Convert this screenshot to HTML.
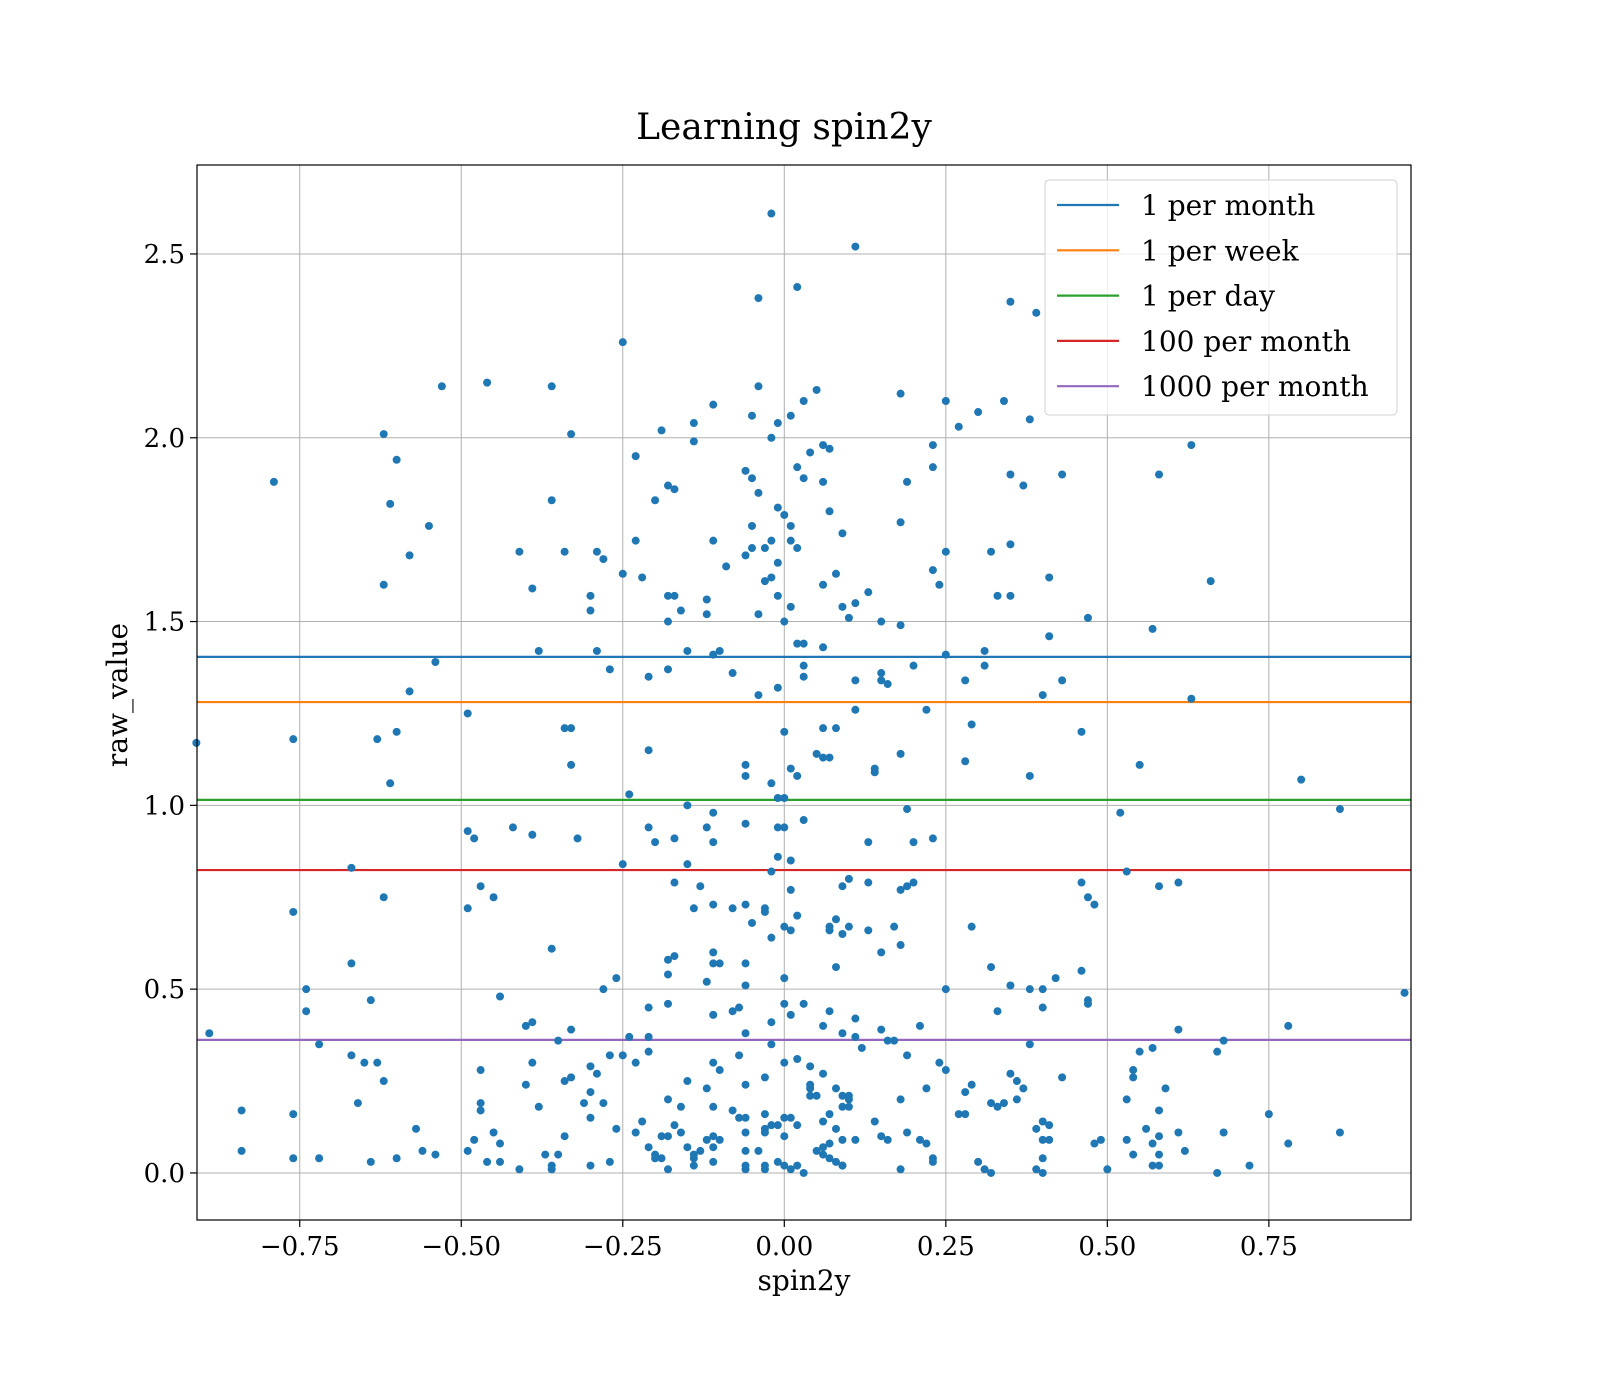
<!DOCTYPE html>
<html><head><meta charset="utf-8"><style>
html,body{margin:0;padding:0;background:#fff;}
svg{display:block;font-family:"DejaVu Serif","Liberation Serif",serif;}
</style></head><body>
<svg id="chart" width="1600" height="1400" viewBox="0 0 1600 1400">
<rect width="1600" height="1400" fill="#fff"/>
<text x="784" y="139" font-size="36" text-anchor="middle" fill="#000">Learning spin2y</text>
<g id="grid"></g>
<g id="hlines"></g>
<g id="points"></g>
<rect x="197" y="165" width="1214" height="1055" fill="none" stroke="#000" stroke-width="1.2"/>
<g id="xticks"></g>
<g id="yticks"></g>
<text x="804" y="1290" font-size="28" text-anchor="middle">spin2y</text>
<text x="127" y="695" font-size="28" text-anchor="middle" transform="rotate(-90 127 695)">raw_value</text>
<g id="legend"></g>
</svg>
<script>
const xTicks=[-0.75,-0.5,-0.25,0,0.25,0.5,0.75];
const xTickLabels=["−0.75","−0.50","−0.25","0.00","0.25","0.50","0.75"];
const yTicks=[0,0.5,1,1.5,2,2.5];
const yTickLabels=["0.0","0.5","1.0","1.5","2.0","2.5"];
const seriesNames=["1 per month","1 per week","1 per day","100 per month","1000 per month"];
const seriesValues=[1.404,1.281,1.015,0.824,0.362];
const seriesColors=["#1f77b4","#ff7f0e","#2ca02c","#d62728","#9467bd"];
const ptX=[-0.02,0.11,0.02,-0.04,0.35,0.39,-0.25,-0.46,-0.53,-0.36,-0.04,0.05,0.18,0.03,0.25,0.34,-0.11,0.01,-0.05,0.30,0.38,-0.14,0.27,-0.19,-0.62,-0.33,-0.01,0.23,0.63,-0.14,0.06,0.07,-0.02,0.04,-0.23,-0.60,0.23,0.02,-0.06,0.03,0.35,0.43,0.58,-0.05,-0.79,0.19,0.06,-0.18,-0.17,0.37,-0.04,-0.36,-0.20,-0.61,-0.01,0.07,0.00,0.18,-0.55,-0.05,0.01,0.09,-0.11,-0.23,-0.02,0.01,-0.05,-0.03,0.02,0.25,0.32,0.35,-0.29,-0.41,-0.34,-0.58,-0.06,-0.28,-0.09,-0.01,0.23,0.08,-0.02,-0.03,0.24,0.06,0.66,-0.25,-0.22,0.41,-0.62,-0.39,-0.18,-0.17,-0.30,-0.12,0.33,0.35,0.13,-0.01,0.11,0.09,-0.3,-0.16,-0.12,-0.04,0.01,0.10,0.47,-0.18,0.15,0.18,0.00,0.57,0.41,0.02,0.03,0.06,-0.38,-0.29,-0.15,-0.10,-0.11,0.25,0.31,
-0.54,0.20,0.03,0.31,-0.27,-0.18,-0.08,0.15,0.03,-0.21,0.11,0.15,0.16,0.28,0.43,-0.58,-0.04,-0.01,0.40,0.63,0.22,0.11,-0.49,0.29,-0.34,-0.33,0.06,0.08,-0.60,0.00,0.46,-0.63,-0.76,-0.91,-0.21,0.05,0.06,0.07,0.18,0.28,0.55,-0.06,-0.33,0.01,0.14,0.14,-0.06,0.02,0.38,0.80,-0.61,-0.02,-0.24,-0.01,0.00,-0.15,0.86,0.19,0.52,-0.11,0.03,-0.06,-0.42,-0.12,-0.21,-0.01,0.00,-0.49,-0.48,-0.39,0.23,-0.17,-0.32,-0.11,-0.20,0.13,0.20,-0.15,-0.25,-0.01,0.01,-0.67,-0.02,0.53,0.10,0.20,0.13,0.19,0.46,0.61,0.58,-0.17,-0.47,-0.13,0.09,0.01,0.18,-0.62,-0.45,0.47,0.48,-0.11,-0.06,-0.03,-0.14,-0.76,-0.49,-0.08,-0.03,0.02,0.08,0.07,0.07,0.09,0.10,0.13,0.17,0.00,0.01,-0.05,0.29,-0.02,0.18,-0.36,0.15,-0.11,-0.17,-0.18,-0.11,-0.10,-0.06,-0.67,0.32,0.08,0.46,-0.18,0.00,-0.26,0.42,-0.12,-0.06,0.35,-0.28,0.25,0.38,0.40,-0.74,0.96,-0.44,-0.64,0.47,0.47,0.00,-0.18,0.03,-0.21,0.40,-0.74,-0.08,-0.07,0.07,0.33,-0.11,0.01,0.11,-0.39,-0.40,0.21,0.78,0.06,0.09,0.15,0.61,-0.33,-0.02,-0.06,-0.89,-0.24,-0.21,0.11,0.16,0.17,0.68,-0.35,-0.72,0.38,0.57,-0.02,0.12,0.55,-0.21,0.67,-0.67,-0.07,0.19,-0.25,-0.27,-0.11,0.02,0.24,-0.65,-0.63,-0.39,-0.23,0.04,-0.30,0.00,0.25,-0.47,-0.10,0.06,0.54,-0.29,0.43,0.35,0.54,-0.33,-0.03,0.36,-0.15,-0.62,0.04,-0.34,-0.40,0.59,0.08,-0.12,0.22,0.29,0.37,0.04,-0.06,0.04,0.05,0.09,0.10,-0.30,0.28,0.36,-0.18,0.53,-0.47,-0.66,-0.31,0.32,0.33,-0.28,0.10,0.34,0.18,-0.16,-0.11,0.10,-0.38,-0.08,0.09,0.58,-0.47,-0.84,0.07,-0.03,0.27,0.28,-0.76,0.75,-0.30,-0.07,-0.06,0.00,0.01,0.14,0.06,0.40,0.41,-0.22,0.02,-0.02,-0.03,-0.01,-0.17,0.08,-0.57,0.39,0.56,-0.26,-0.03,-0.23,-0.06,-0.45,0.61,0.68,0.86,0.19,-0.16,-0.18,-0.19,-0.11,-0.10,-0.12,-0.34,0.00,0.15,0.16,0.21,0.40,0.41,0.49,0.48,0.58,0.53,-0.44,-0.48,0.11,0.07,0.09,0.22,0.78,0.57,-0.21,-0.15,-0.11,-0.06,-0.04,0.06,0.62,-0.49,-0.84,-0.56,-0.13,-0.20,-0.35,-0.37,0.06,0.05,0.54,0.58,-0.60,-0.72,-0.76,-0.54,-0.14,-0.14,0.23,0.40,0.07,-0.19,-0.20,-0.11,0.30,-0.27,-0.46,-0.64,-0.44,-0.01,0.08,0.23,-0.06,-0.03,0.00,0.02,-0.30,-0.36,-0.14,-0.41,-0.36,0.57,0.58,0.72,0.31,0.01,-0.18,-0.03,-0.06,0.09,0.18,0.39,0.40,0.50,0.67,0.03,0.32,0.09];
const ptY=[2.61,2.52,2.41,2.38,2.37,2.34,2.26,2.15,2.14,2.14,2.14,2.13,2.12,2.10,2.10,2.10,2.09,2.06,2.06,2.07,2.05,2.04,2.03,2.02,2.01,2.01,2.04,1.98,1.98,1.99,1.98,1.97,2.0,1.96,1.95,1.94,1.92,1.92,1.91,1.89,1.90,1.90,1.90,1.89,1.88,1.88,1.88,1.87,1.86,1.87,1.85,1.83,1.83,1.82,1.81,1.80,1.79,1.77,1.76,1.76,1.76,1.74,1.72,1.72,1.72,1.72,1.70,1.70,1.70,1.69,1.69,1.71,1.69,1.69,1.69,1.68,1.68,1.67,1.65,1.66,1.64,1.63,1.62,1.61,1.60,1.60,1.61,1.63,1.62,1.62,1.60,1.59,1.57,1.57,1.57,1.56,1.57,1.57,1.58,1.57,1.55,1.54,1.53,1.53,1.52,1.52,1.54,1.51,1.51,1.50,1.50,1.49,1.50,1.48,1.46,1.44,1.44,1.43,1.42,1.42,1.42,1.42,1.41,1.41,1.42,
1.39,1.38,1.38,1.38,1.37,1.37,1.36,1.36,1.35,1.35,1.34,1.34,1.33,1.34,1.34,1.31,1.30,1.32,1.30,1.29,1.26,1.26,1.25,1.22,1.21,1.21,1.21,1.21,1.20,1.20,1.20,1.18,1.18,1.17,1.15,1.14,1.13,1.13,1.14,1.12,1.11,1.11,1.11,1.10,1.10,1.09,1.08,1.08,1.08,1.07,1.06,1.06,1.03,1.02,1.02,1.00,0.99,0.99,0.98,0.98,0.96,0.95,0.94,0.94,0.94,0.94,0.94,0.93,0.91,0.92,0.91,0.91,0.91,0.90,0.90,0.90,0.90,0.84,0.84,0.86,0.85,0.83,0.82,0.82,0.80,0.79,0.79,0.78,0.79,0.79,0.78,0.79,0.78,0.78,0.78,0.77,0.77,0.75,0.75,0.75,0.73,0.73,0.73,0.72,0.72,0.71,0.72,0.72,0.71,0.70,0.69,0.67,0.66,0.65,0.67,0.66,0.67,0.67,0.66,0.68,0.67,0.64,0.62,0.61,0.60,0.60,0.59,0.58,0.57,0.57,0.57,0.57,0.56,0.56,0.55,0.54,0.53,0.53,0.53,0.52,0.51,0.51,0.50,0.50,0.50,0.50,0.50,0.49,0.48,0.47,0.47,0.46,0.46,0.46,0.46,0.45,0.45,0.44,0.44,0.45,0.44,0.44,0.43,0.43,0.42,0.41,0.40,0.40,0.40,0.40,0.38,0.39,0.39,0.39,0.41,0.38,0.38,0.37,0.37,0.37,0.36,0.36,0.36,0.36,0.35,0.35,0.34,0.35,0.34,0.33,0.33,0.33,0.32,0.32,0.32,0.32,0.32,0.30,0.31,0.30,0.30,0.30,0.30,0.30,0.29,0.29,0.30,0.28,0.28,0.28,0.27,0.28,0.27,0.26,0.27,0.26,0.26,0.26,0.25,0.25,0.25,0.24,0.25,0.24,0.23,0.23,0.23,0.23,0.24,0.23,0.23,0.24,0.21,0.21,0.21,0.21,0.22,0.22,0.20,0.20,0.20,0.19,0.19,0.19,0.19,0.18,0.19,0.20,0.19,0.20,0.18,0.18,0.18,0.18,0.17,0.18,0.17,0.17,0.17,0.16,0.16,0.16,0.16,0.16,0.16,0.15,0.15,0.15,0.15,0.15,0.14,0.14,0.14,0.13,0.14,0.13,0.13,0.12,0.13,0.13,0.12,0.12,0.12,0.12,0.12,0.11,0.11,0.11,0.11,0.11,0.11,0.11,0.11,0.11,0.10,0.10,0.10,0.09,0.09,0.10,0.10,0.10,0.09,0.09,0.09,0.09,0.09,0.08,0.10,0.09,0.08,0.09,0.09,0.08,0.09,0.08,0.08,0.08,0.07,0.07,0.07,0.06,0.06,0.07,0.06,0.06,0.06,0.06,0.06,0.05,0.05,0.05,0.05,0.06,0.05,0.05,0.04,0.04,0.04,0.05,0.05,0.04,0.04,0.04,0.04,0.04,0.04,0.03,0.03,0.03,0.03,0.03,0.03,0.03,0.03,0.03,0.02,0.02,0.02,0.02,0.02,0.02,0.02,0.01,0.01,0.02,0.02,0.02,0.01,0.01,0.01,0.01,0.01,0.02,0.01,0.01,0.00,0.01,0.00,0.00,0.00,0.02];

const NS="http://www.w3.org/2000/svg";
const L=197,R=1411,T=165,B=1220;
const xMin=-0.909,xMax=0.970,yMin=-0.128,yMax=2.742;
function sx(v){return L+(v-xMin)/(xMax-xMin)*(R-L);}
function sy(v){return B-(v-yMin)/(yMax-yMin)*(B-T);}
function mk(tag,attrs,parent){const e=document.createElementNS(NS,tag);for(const k in attrs)e.setAttribute(k,attrs[k]);parent.appendChild(e);return e;}
const grid=document.getElementById('grid'),xt=document.getElementById('xticks'),yt=document.getElementById('yticks');
xTicks.forEach((v,i)=>{const x=sx(v);
 const g=mk('line',{x1:x,x2:x,y1:T,y2:B,stroke:'#b0b0b0','stroke-width':1},grid);
 
 
 const t=mk('line',{x1:x,x2:x,y1:B,y2:B+7,stroke:'#000','stroke-width':1.2},xt);
 
 
 const tx=mk('text',{x:x,y:B+35,'font-size':26,'text-anchor':'middle'},xt);tx.textContent=xTickLabels[i];
 
 
});
yTicks.forEach((v,i)=>{const y=sy(v);
 const g=mk('line',{x1:L,x2:R,y1:y,y2:y,stroke:'#b0b0b0','stroke-width':1},grid);
 
 
 const t=mk('line',{x1:L-7,x2:L,y1:y,y2:y,stroke:'#000','stroke-width':1.2},yt);
 
 
 const tx=mk('text',{x:L-12,y:y+9,'font-size':26,'text-anchor':'end'},yt);tx.textContent=yTickLabels[i];
 
 
});
const hl=document.getElementById('hlines');
seriesValues.forEach((v,i)=>{const y=sy(v);
 const l=mk('line',{x1:L,x2:R,y1:y,y2:y,stroke:seriesColors[i],'stroke-width':2.2},hl);
 
 
});
const pg=document.getElementById('points');
ptX.forEach((v,i)=>{
 const c=mk('circle',{cx:sx(v),cy:sy(ptY[i]),r:4,fill:'#1f77b4'},pg);
 
 
});
const lg=document.getElementById('legend');
const box=mk('rect',{x:1045,y:180,width:352,height:235,rx:4,fill:'#fff','fill-opacity':0.8,stroke:'#d0d0d0','stroke-width':1},lg);


seriesNames.forEach((n,i)=>{const y=205+i*45.3;
 const l=mk('line',{x1:1057,x2:1119,y1:y,y2:y,stroke:seriesColors[i],'stroke-width':2.2},lg);
 
 
 const t=mk('text',{x:1141,y:y+10,'font-size':28},lg);t.textContent=n;
 
 
});
</script>
</body></html>
